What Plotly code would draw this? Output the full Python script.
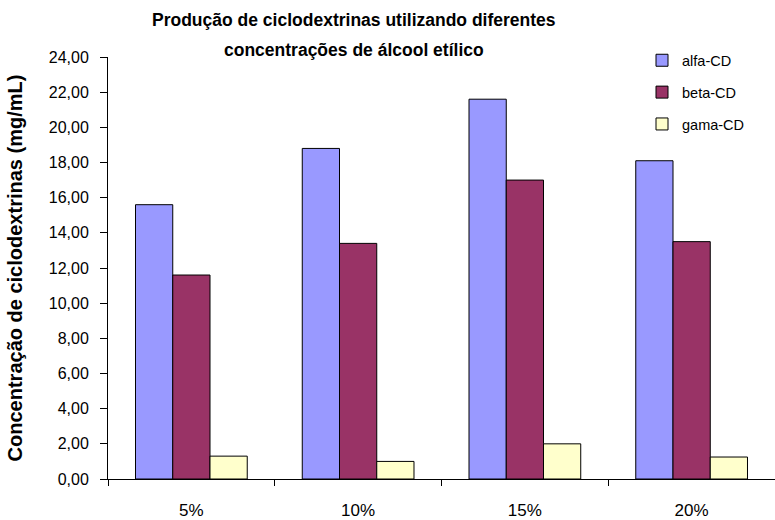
import plotly.graph_objects as go

categories = ["5%", "10%", "15%", "20%"]
alfa_cd = [15.6, 18.8, 21.6, 18.1]
beta_cd = [11.6, 13.4, 17.0, 13.5]
gama_cd = [1.3, 1.0, 2.0, 1.25]
series_names = ["alfa-CD", "beta-CD", "gama-CD"]
series_colors = ["#9999FF", "#993366", "#FFFFCC"]
title_lines = ["Produção de ciclodextrinas utilizando diferentes",
               "concentrações de álcool etílico"]

FONT = "Liberation Sans, Arial, sans-serif"
PLOT_H = 520 - 57 - 41

fig = go.Figure()
for name, vals, col in zip(series_names, [alfa_cd, beta_cd, gama_cd], series_colors):
    fig.add_trace(go.Bar(
        x=categories, y=vals, name=name, legendgroup=name,
        marker=dict(color=col, line=dict(color="black", width=1)),
    ))

annots = []
for line, py in zip(title_lines, [20, 50]):
    annots.append(dict(
        text="<b>" + line + "</b>",
        xref="paper", yref="paper", x=(354 - 108) / 667, y=(479 - py) / PLOT_H,
        xanchor="center", yanchor="middle", showarrow=False,
        font=dict(size=17.5, family=FONT, color="black"),
    ))

fig.update_layout(
    width=775, height=520,
    margin=dict(l=108, r=0, t=57, b=41),
    paper_bgcolor="white", plot_bgcolor="white",
    font=dict(family=FONT, color="black", size=14),
    separators=",.",
    bargap=0.33, bargroupgap=0,
    showlegend=True,
    legend=dict(x=(642 - 108) / 667, y=1.03, xanchor="left", yanchor="top",
                font=dict(size=14.5, family=FONT), tracegroupgap=10,
                bgcolor="rgba(0,0,0,0)"),
    annotations=annots,
)

fig.update_yaxes(
    range=[0, 24], dtick=2, tickformat=".2f",
    showgrid=False, zeroline=False,
    showline=True, linecolor="black", linewidth=1,
    ticks="outside", ticklen=7, tickcolor="black",
    tickfont=dict(size=16, family=FONT), ticklabelstandoff=8,
    title=dict(text="<b>Concentração de ciclodextrinas (mg/mL)</b>",
               font=dict(size=20, family=FONT), standoff=20),
)
fig.update_xaxes(
    showgrid=False, showline=True, linecolor="black", linewidth=1,
    ticks="outside", ticklen=6, tickcolor="black", tickson="boundaries",
    tickfont=dict(size=17, family=FONT), ticklabelstandoff=16,
)

fig.write_html("out.html")
